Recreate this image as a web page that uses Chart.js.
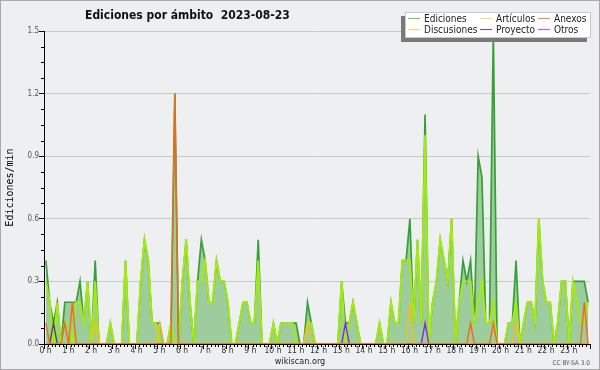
<!DOCTYPE html>
<html>
<head>
<meta charset="utf-8">
<script src="https://cdn.jsdelivr.net/npm/chart.js@4.4.0/dist/chart.umd.min.js"></script>
<style>
  html, body { margin: 0; padding: 0; background: #eeeff1; }
  canvas { display: block; }
</style>
</head>
<body>
<canvas id="chart" width="600" height="370"></canvas>
<script>
/* edits per minute, 10 minute bins, one row per hour */

const title = "Ediciones por ámbito  2023-08-23";
const seriesNames = ["Ediciones", "Artículos", "Anexos", "Discusiones", "Proyecto", "Otros"];

// middle of each 10 min bin, in hours
const slotHours = [];
for (let i = 0; i < 144; i++) slotHours.push((i + 0.5) / 6);

const ediciones = [
  0.4, 0.2, 0.1, 0.2, 0.0, 0.2,   // 0 h
  0.2, 0.2, 0.2, 0.3, 0.1, 0.3,   // 1 h
  0.0, 0.4, 0.0, 0.0, 0.0, 0.1,   // 2 h
  0.0, 0.0, 0.0, 0.4, 0.0, 0.0,   // 3 h
  0.0, 0.3, 0.5, 0.4, 0.1, 0.1,   // 4 h
  0.1, 0.0, 0.0, 0.1, 1.2, 0.0,   // 5 h
  0.3, 0.5, 0.2, 0.0, 0.3, 0.5,   // 6 h
  0.4, 0.2, 0.2, 0.4, 0.3, 0.3,   // 7 h
  0.2, 0.0, 0.0, 0.1, 0.2, 0.2,   // 8 h
  0.1, 0.1, 0.5, 0.0, 0.0, 0.0,   // 9 h
  0.1, 0.0, 0.1, 0.1, 0.1, 0.1,   // 10 h
  0.1, 0.0, 0.0, 0.2, 0.1, 0.0,   // 11 h
  0.0, 0.0, 0.0, 0.0, 0.0, 0.0,   // 12 h
  0.3, 0.1, 0.1, 0.2, 0.1, 0.0,   // 13 h
  0.0, 0.0, 0.0, 0.0, 0.1, 0.0,   // 14 h
  0.0, 0.2, 0.1, 0.1, 0.4, 0.4,   // 15 h
  0.6, 0.1, 0.5, 0.1, 1.1, 0.0,   // 16 h
  0.2, 0.3, 0.5, 0.4, 0.3, 0.6,   // 17 h
  0.0, 0.2, 0.4, 0.3, 0.4, 0.1,   // 18 h
  0.9, 0.8, 0.1, 0.1, 1.5, 0.0,   // 19 h
  0.0, 0.0, 0.1, 0.1, 0.4, 0.0,   // 20 h
  0.1, 0.2, 0.2, 0.1, 0.6, 0.3,   // 21 h
  0.2, 0.2, 0.0, 0.1, 0.3, 0.3,   // 22 h
  0.0, 0.3, 0.3, 0.3, 0.3, 0.2    // 23 h
];

const articulos = [
  0.3, 0.2, 0.0, 0.2, 0.0, 0.1,
  0.1, 0.0, 0.2, 0.2, 0.1, 0.3,
  0.0, 0.3, 0.0, 0.0, 0.0, 0.1,
  0.0, 0.0, 0.0, 0.4, 0.0, 0.0,
  0.0, 0.3, 0.5, 0.4, 0.1, 0.1,
  0.0, 0.0, 0.0, 0.1, 0.0, 0.0,
  0.3, 0.5, 0.2, 0.0, 0.3, 0.3,
  0.4, 0.2, 0.2, 0.4, 0.3, 0.3,
  0.2, 0.0, 0.0, 0.1, 0.2, 0.2,
  0.1, 0.1, 0.4, 0.0, 0.0, 0.0,
  0.1, 0.0, 0.1, 0.1, 0.1, 0.1,
  0.0, 0.0, 0.0, 0.1, 0.1, 0.0,
  0.0, 0.0, 0.0, 0.0, 0.0, 0.0,
  0.3, 0.0, 0.1, 0.2, 0.1, 0.0,
  0.0, 0.0, 0.0, 0.0, 0.1, 0.0,
  0.0, 0.2, 0.1, 0.1, 0.4, 0.4,
  0.4, 0.1, 0.5, 0.1, 1.0, 0.0,
  0.2, 0.3, 0.5, 0.4, 0.3, 0.6,
  0.0, 0.2, 0.3, 0.3, 0.3, 0.1,
  0.2, 0.3, 0.1, 0.1, 0.2, 0.0,
  0.0, 0.0, 0.1, 0.1, 0.2, 0.0,
  0.1, 0.2, 0.2, 0.1, 0.6, 0.3,
  0.2, 0.2, 0.0, 0.1, 0.3, 0.3,
  0.0, 0.3, 0.2, 0.1, 0.1, 0.2
];

const anexos = [
  0.1, 0, 0, 0, 0, 0.1,
  0, 0.2, 0, 0, 0, 0,
  0, 0, 0, 0, 0, 0,
  0, 0, 0, 0, 0, 0,
  0, 0, 0, 0, 0, 0,
  0, 0, 0, 0, 1.2, 0,
  0, 0, 0, 0, 0, 0,
  0, 0, 0, 0, 0, 0,
  0, 0, 0, 0, 0, 0,
  0, 0, 0, 0, 0, 0,
  0, 0, 0, 0, 0, 0,
  0, 0, 0, 0, 0, 0,
  0, 0, 0, 0, 0, 0,
  0, 0, 0, 0, 0, 0,
  0, 0, 0, 0, 0, 0,
  0, 0, 0, 0, 0, 0,
  0, 0, 0, 0, 0, 0,
  0, 0, 0, 0, 0, 0,
  0, 0, 0, 0, 0.1, 0,
  0, 0, 0, 0, 0.1, 0,
  0, 0, 0, 0, 0, 0,
  0, 0, 0, 0, 0, 0,
  0, 0, 0, 0, 0, 0,
  0, 0, 0, 0, 0.2, 0
];

const discusiones = [
  0, 0, 0, 0, 0, 0,
  0, 0, 0, 0, 0, 0,
  0, 0.1, 0, 0, 0, 0,
  0, 0, 0, 0, 0, 0,
  0, 0, 0, 0, 0, 0,
  0.1, 0, 0, 0, 0, 0,
  0, 0, 0, 0, 0, 0,
  0, 0, 0, 0, 0, 0,
  0, 0, 0, 0, 0, 0,
  0, 0, 0, 0, 0, 0,
  0, 0, 0, 0, 0, 0,
  0, 0, 0, 0.1, 0, 0,
  0, 0, 0, 0, 0, 0,
  0, 0, 0, 0, 0, 0,
  0, 0, 0, 0, 0, 0,
  0, 0, 0, 0, 0, 0,
  0.2, 0, 0, 0, 0, 0,
  0, 0, 0, 0, 0, 0,
  0, 0, 0, 0, 0, 0,
  0, 0, 0, 0, 0, 0,
  0, 0, 0, 0, 0.1, 0,
  0, 0, 0, 0, 0, 0,
  0, 0, 0, 0, 0, 0,
  0, 0, 0, 0, 0, 0
];

const proyecto = [
  0, 0, 0.1, 0, 0, 0,
  0, 0, 0, 0, 0, 0,
  0, 0, 0, 0, 0, 0,
  0, 0, 0, 0, 0, 0,
  0, 0, 0, 0, 0, 0,
  0, 0, 0, 0, 0, 0,
  0, 0, 0, 0, 0, 0,
  0, 0, 0, 0, 0, 0,
  0, 0, 0, 0, 0, 0,
  0, 0, 0, 0, 0, 0,
  0, 0, 0, 0, 0, 0,
  0, 0, 0, 0, 0, 0,
  0, 0, 0, 0, 0, 0,
  0, 0, 0, 0, 0, 0,
  0, 0, 0, 0, 0, 0,
  0, 0, 0, 0, 0, 0,
  0, 0, 0, 0, 0, 0,
  0, 0, 0, 0, 0, 0,
  0, 0, 0, 0, 0, 0,
  0, 0, 0, 0, 0, 0,
  0, 0, 0, 0, 0, 0,
  0, 0, 0, 0, 0, 0,
  0, 0, 0, 0, 0, 0,
  0, 0, 0, 0, 0, 0
];

const otros = [
  0, 0, 0, 0, 0, 0,
  0, 0, 0, 0, 0, 0,
  0, 0, 0, 0, 0, 0,
  0, 0, 0, 0, 0, 0,
  0, 0, 0, 0, 0, 0,
  0, 0, 0, 0, 0, 0,
  0, 0, 0, 0, 0, 0,
  0, 0, 0, 0, 0, 0,
  0, 0, 0, 0, 0, 0,
  0, 0, 0, 0, 0, 0,
  0, 0, 0, 0, 0, 0,
  0, 0, 0, 0, 0, 0,
  0, 0, 0, 0, 0, 0,
  0, 0.1, 0, 0, 0, 0,
  0, 0, 0, 0, 0, 0,
  0, 0, 0, 0, 0, 0,
  0, 0, 0, 0, 0.1, 0,
  0, 0, 0, 0, 0, 0,
  0, 0, 0, 0, 0, 0,
  0, 0, 0, 0, 0, 0,
  0, 0, 0, 0, 0, 0,
  0, 0, 0, 0, 0, 0,
  0, 0, 0, 0, 0, 0,
  0, 0, 0, 0, 0, 0
];

const yTicks = [0, 0.3, 0.6, 0.9, 1.2, 1.5];

/* styles */
const lineColors = ["#38a038", "#a6ea10", "#f06a1e", "#f2c01c", "#505050", "#7b2fe0"];
const lineWidths = [1.7, 1.9, 1.4, 1.4, 1.4, 1.4];
const legendColors = ["#7cc47c", "#d2ef7a", "#f29060", "#f6d66e", "#6a6a6a", "#a46cf0"];
const bg = "#eeeff1";
const condensed = "'DejaVu Sans Condensed', 'DejaVu Sans', sans-serif";

const allSeries = [ediciones, articulos, anexos, discusiones, proyecto, otros];

const datasets = allSeries.map((values, i) => ({
    label: seriesNames[i],
    data: values,
    borderColor: lineColors[i],
    borderWidth: lineWidths[i],
    pointRadius: 0,
    tension: 0,
    fill: i === 0 ? "origin" : false,
    backgroundColor: i === 0 ? "#9dcc9d" : lineColors[i],
    order: i === 0 ? 10 : (i === 1 ? 9 : i)
}));

//background, titles, legend box, minor ticks
const decorations = {
    id: "decorations",
    beforeDraw(chart) {
        const ctx = chart.ctx;
        ctx.save();
        ctx.fillStyle = bg;
        ctx.fillRect(0, 0, chart.width, chart.height);
        ctx.restore();
    },
    afterDraw(chart) {
        const ctx = chart.ctx;
        const xs = chart.scales.x;
        const ys = chart.scales.y;
        const area = chart.chartArea;
        ctx.save();

        // minor ticks
        ctx.strokeStyle = "#000";
        ctx.lineWidth = 1;
        ctx.beginPath();
        for (let k = 0; k <= 144; k++) {
            if (k % 6 === 0) continue;
            const px = Math.round(xs.getPixelForValue(k / 6)) + 0.5;
            ctx.moveTo(px, area.bottom);
            ctx.lineTo(px, area.bottom + 3);
        }
        for (let k = 0; k <= 20; k++) {
            if (k % 4 === 0) continue;
            const py = Math.round(ys.getPixelForValue(k * 0.075)) + 0.5;
            ctx.moveTo(area.left - 3, py);
            ctx.lineTo(area.left, py);
        }
        ctx.stroke();

        // title
        ctx.fillStyle = "#111";
        ctx.font = "bold 12px " + condensed;
        ctx.textAlign = "left";
        ctx.textBaseline = "alphabetic";
        ctx.fillText(title, 85, 18.5);

        // axis titles
        ctx.fillStyle = "#222";
        ctx.font = "9px " + condensed;
        ctx.textAlign = "center";
        ctx.fillText("wikiscan.org", 300, 363.5);
        ctx.fillStyle = "#555";
        ctx.font = "6.5px " + condensed;
        ctx.textAlign = "right";
        ctx.fillText("CC BY-SA 3.0", 590, 364.5);

        ctx.save();
        ctx.translate(10, (area.top + area.bottom) / 2);
        ctx.rotate(-Math.PI / 2);
        ctx.fillStyle = "#000";
        ctx.font = "10px 'DejaVu Sans Mono', monospace";
        ctx.textAlign = "center";
        ctx.textBaseline = "middle";
        ctx.fillText("Ediciones/min", 0, 0);
        ctx.restore();

        // legend box
        ctx.fillStyle = "#7a7a7a";
        ctx.fillRect(401, 16, 186, 26);
        ctx.fillStyle = "#ffffff";
        ctx.fillRect(405, 12, 186, 26);
        ctx.strokeStyle = "#c8c8c8";
        ctx.strokeRect(405.5, 12.5, 185, 25);

        const colX = [408, 480, 538];
        const rowY = [18.5, 29.5];
        ctx.font = "10px " + condensed;
        ctx.textAlign = "left";
        ctx.textBaseline = "middle";
        chart.data.datasets.forEach((ds, i) => {
            const cx = colX[i % 3];
            const cy = rowY[Math.floor(i / 3)];
            ctx.strokeStyle = legendColors[i];
            ctx.lineWidth = 1.2;
            ctx.beginPath();
            ctx.moveTo(cx, cy);
            ctx.lineTo(cx + 12, cy);
            ctx.stroke();
            ctx.fillStyle = "#222";
            ctx.fillText(ds.label, cx + 16, cy + 0.5);
        });

        // frame
        ctx.strokeStyle = "#a8a8a8";
        ctx.lineWidth = 1;
        ctx.strokeRect(0.5, 0.5, chart.width - 1, chart.height - 1);
        ctx.restore();
    }
};

const config = {
    type: "line",
    data: {
        labels: slotHours,
        datasets: datasets
    },
    options: {
        responsive: false,
        animation: false,
        devicePixelRatio: 1,
        layout: { padding: { left: 0, right: 10, top: 31, bottom: 0 } },
        plugins: {
            legend: { display: false },
            tooltip: { enabled: false },
            title: { display: false }
        },
        scales: {
            x: {
                type: "linear",
                min: 0,
                max: 24,
                z: 1,
                afterFit: scale => { scale.height = 26; },
                afterBuildTicks: scale => {
                    scale.ticks = [];
                    for (let h = 0; h <= 24; h++) scale.ticks.push({ value: h });
                },
                border: { display: true, color: "#000", width: 1 },
                grid: { drawOnChartArea: false, drawTicks: true, tickLength: 5, tickColor: "#000" },
                ticks: {
                    autoSkip: false,
                    maxRotation: 0,
                    padding: -3,
                    labelOffset: 1.5,
                    color: "#333",
                    font: { family: condensed, size: 8.5 },
                    callback: v => (v < 24 ? v + " h" : "")
                }
            },
            y: {
                min: 0,
                max: 1.5,
                afterFit: scale => { scale.width = 44; },
                afterBuildTicks: scale => {
                    scale.ticks = yTicks.map(v => ({ value: v }));
                },
                border: { display: true, color: "#000", width: 1 },
                grid: { color: "#c9c9c9", lineWidth: 1, drawTicks: true, tickLength: 5, tickColor: "#000" },
                ticks: {
                    padding: 0,
                    color: "#555",
                    font: { family: condensed, size: 8 },
                    callback: v => v.toFixed(1)
                }
            }
        }
    },
    plugins: [decorations]
};

const ctx = document.getElementById("chart").getContext("2d");
const editsChart = new Chart(ctx, config);
</script>
</body>
</html>
